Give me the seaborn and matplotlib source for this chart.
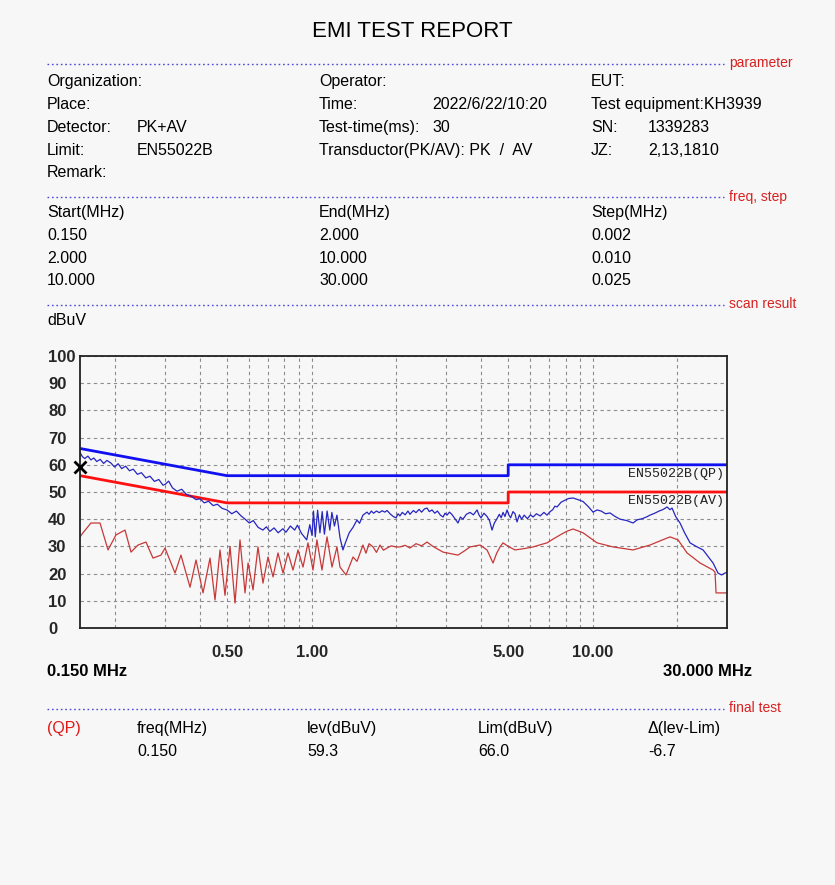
import numpy as np
import pandas as pd
import matplotlib
matplotlib.use('Agg')
import matplotlib.pyplot as plt
from matplotlib.lines import Line2D
import seaborn as sns

# peak trace: (MHz, dBuV)
pk_points = [
    (0.150, 64.5), (0.153, 63.0), (0.156, 62.3), (0.160, 63.2), (0.164, 61.8),
    (0.168, 62.5), (0.172, 61.2), (0.177, 62.0), (0.182, 60.5), (0.187, 61.6),
    (0.193, 60.7), (0.199, 59.2), (0.205, 60.4), (0.211, 58.6), (0.218, 59.5),
    (0.225, 57.8), (0.232, 58.4), (0.240, 56.5), (0.248, 57.1), (0.257, 55.2),
    (0.266, 55.8), (0.276, 53.9), (0.286, 54.6), (0.296, 52.5), (0.301, 52.8),
    (0.310, 54.0), (0.320, 51.5), (0.332, 50.3), (0.345, 51.0), (0.358, 49.2),
    (0.372, 48.5), (0.388, 47.2), (0.401, 47.5), (0.415, 46.0), (0.430, 46.6),
    (0.446, 45.0), (0.462, 45.5), (0.480, 44.0), (0.500, 43.4), (0.520, 42.0),
    (0.540, 43.0), (0.561, 41.2), (0.580, 40.0), (0.600, 38.6), (0.620, 39.5),
    (0.645, 37.0), (0.671, 36.0), (0.690, 37.2), (0.710, 35.5), (0.735, 36.8),
    (0.760, 35.0), (0.790, 36.5), (0.810, 35.2), (0.840, 37.5), (0.870, 36.0),
    (0.890, 37.8), (0.920, 34.8), (0.960, 32.4), (0.985, 38.0), (1.003, 34.0),
    (1.015, 43.0), (1.030, 33.5), (1.050, 43.3), (1.070, 35.0), (1.090, 42.8),
    (1.110, 34.5), (1.135, 43.0), (1.160, 36.0), (1.180, 42.5), (1.205, 37.5),
    (1.230, 41.5), (1.262, 33.0), (1.292, 28.7), (1.320, 31.5), (1.360, 35.0),
    (1.403, 37.0), (1.449, 39.7), (1.480, 38.5), (1.522, 41.5), (1.573, 42.6),
    (1.600, 41.8), (1.630, 43.0), (1.660, 42.2), (1.700, 43.0), (1.740, 42.4),
    (1.780, 43.1), (1.820, 42.6), (1.854, 43.2), (1.900, 42.0), (1.950, 41.0),
    (1.995, 40.5), (2.030, 42.0), (2.060, 41.2), (2.100, 42.5), (2.150, 41.6),
    (2.200, 43.0), (2.237, 41.8), (2.300, 43.2), (2.350, 42.4), (2.410, 43.6),
    (2.460, 42.6), (2.520, 43.8), (2.572, 44.1), (2.620, 42.8), (2.680, 43.4),
    (2.740, 42.2), (2.800, 43.0), (2.870, 41.5), (2.933, 40.8), (2.980, 42.2),
    (3.030, 41.5), (3.090, 42.6), (3.150, 41.8), (3.230, 40.2), (3.315, 38.6),
    (3.380, 40.8), (3.450, 40.0), (3.550, 41.8), (3.658, 42.5), (3.760, 41.6),
    (3.874, 43.4), (3.940, 41.5), (4.000, 40.5), (4.100, 42.2), (4.204, 41.0),
    (4.290, 39.5), (4.380, 36.0), (4.460, 38.5), (4.550, 40.0), (4.650, 41.8),
    (4.720, 40.5), (4.793, 42.5), (4.870, 41.0), (4.952, 43.4), (5.030, 41.5),
    (5.100, 40.5), (5.200, 42.8), (5.288, 42.0), (5.375, 39.0), (5.480, 41.6),
    (5.580, 40.0), (5.700, 41.5), (5.850, 40.2), (6.000, 41.6), (6.130, 40.8),
    (6.300, 42.0), (6.500, 41.2), (6.700, 42.5), (6.871, 41.5), (7.050, 42.8),
    (7.200, 43.5), (7.330, 44.8), (7.460, 44.5), (7.700, 46.2), (7.964, 47.0),
    (8.200, 47.6), (8.504, 47.8), (8.850, 47.2), (9.229, 46.5), (9.600, 44.8),
    (10.02, 42.6), (10.35, 43.4), (10.70, 43.0), (11.10, 42.0), (11.51, 42.3),
    (12.00, 41.0), (12.50, 40.0), (13.20, 39.5), (13.90, 38.6), (14.40, 39.8),
    (15.00, 40.2), (15.50, 40.8), (15.97, 41.5), (16.60, 42.2), (17.20, 43.0),
    (17.80, 43.6), (18.36, 44.5), (18.80, 43.5), (19.13, 44.1), (19.70, 41.0),
    (20.42, 38.6), (21.20, 35.0), (22.17, 31.3), (23.30, 30.0), (24.66, 28.7),
    (25.60, 26.5), (26.76, 23.9), (27.87, 20.2), (28.70, 19.5), (29.52, 20.2),
    (30.00, 20.5),
]

# average trace: (MHz, dBuV)
av_points = [
    (0.150, 33.5), (0.1537, 35.0), (0.1641, 38.6), (0.1767, 38.6), (0.1887, 28.7),
    (0.2013, 34.2), (0.2168, 36.0), (0.2278, 27.9), (0.2412, 30.5), (0.2575, 31.6),
    (0.2727, 25.7), (0.2912, 26.8), (0.3009, 29.4), (0.3266, 20.2), (0.3429, 26.8),
    (0.3693, 15.0), (0.3879, 25.0), (0.4108, 12.9), (0.4350, 25.7), (0.4532, 10.3),
    (0.4721, 28.7), (0.4918, 12.0), (0.5125, 30.0), (0.5337, 9.2), (0.5561, 32.4),
    (0.5795, 12.9), (0.5940, 23.9), (0.6188, 14.0), (0.6443, 29.8), (0.6712, 16.5),
    (0.6994, 26.1), (0.7287, 18.8), (0.7591, 27.6), (0.7908, 20.2), (0.8239, 27.6),
    (0.8583, 21.3), (0.8942, 28.7), (0.9316, 22.4), (0.9703, 31.3), (1.011, 21.3),
    (1.044, 32.4), (1.088, 21.3), (1.134, 33.5), (1.181, 22.4), (1.230, 29.8),
    (1.261, 22.4), (1.325, 19.5), (1.403, 26.1), (1.450, 24.5), (1.522, 30.5),
    (1.560, 27.5), (1.600, 31.0), (1.653, 29.8), (1.700, 27.8), (1.750, 30.5),
    (1.800, 28.6), (1.854, 29.4), (1.920, 30.2), (1.995, 29.8), (2.062, 29.8),
    (2.150, 30.4), (2.237, 29.4), (2.350, 31.0), (2.460, 30.2), (2.572, 31.6),
    (2.700, 30.0), (2.933, 27.9), (3.100, 27.4), (3.315, 26.8), (3.500, 28.4),
    (3.658, 29.8), (3.970, 30.5), (4.204, 28.7), (4.300, 26.5), (4.416, 23.9),
    (4.550, 27.5), (4.676, 29.8), (4.793, 31.3), (5.000, 30.0), (5.288, 28.7),
    (5.700, 29.2), (6.130, 29.8), (6.500, 30.6), (6.871, 31.3), (7.250, 32.8),
    (7.645, 34.2), (8.100, 35.6), (8.504, 36.4), (9.229, 35.0), (10.35, 31.3),
    (11.80, 29.8), (13.90, 28.7), (15.97, 30.5), (17.50, 32.2), (18.82, 33.5),
    (20.09, 32.4), (21.63, 27.6), (24.06, 23.9), (26.76, 21.3), (27.20, 20.5),
    (27.43, 12.9), (29.52, 12.9), (30.00, 12.9),
]
pk_freq, pk_level = [list(v) for v in zip(*pk_points)]
av_freq, av_level = [list(v) for v in zip(*av_points)]

# EN55022B limits
qp_lim_freq = [0.15, 0.5, 5.0, 5.0, 30.0]
qp_lim = [66, 56, 56, 60, 60]
av_lim_freq = [0.15, 0.5, 5.0, 5.0, 30.0]
av_lim = [56, 46, 46, 50, 50]

final_freq = 0.150
final_lev = 59.3
final_lim = 66.0

x_major = [0.5, 1.0, 5.0, 10.0]
x_major_labels = ['0.50', '1.00', '5.00', '10.00']
x_minor = [0.2, 0.3, 0.4, 0.6, 0.7, 0.8, 0.9, 2, 3, 4, 6, 7, 8, 9, 20]
y_ticks = list(range(0, 101, 10))

sns.set_style('white')
SANS = ['Liberation Sans', 'DejaVu Sans']
plt.rcParams['font.family'] = SANS

W, H = 835, 885
BG = '#f7f7f7'
fig = plt.figure(figsize=(W / 100, H / 100), dpi=100, facecolor=BG)


def fx(x):
    return x / W


def fy(y):
    return 1 - y / H


def txt(x, y, s, size=11.5, color='#000000', ha='left', **kw):
    # y is the visual middle of the capitals; place on a shared baseline
    fig.text(fx(x), fy(y + size * 0.45), s, fontsize=size, color=color, ha=ha,
             va='baseline', **kw)


def sep(y, label):
    fig.add_artist(Line2D([fx(47), fx(724)], [fy(y), fy(y)], color='#4a4ad8',
                          lw=1.0, linestyle=(0, (1.2, 2.0))))
    txt(729, y - 1, label, size=10, color='#d82020')


txt(412, 30, 'EMI TEST REPORT', size=16, ha='center')

sep(64, 'parameter')
rows = [
    (81, [(47, 'Organization:'), (319, 'Operator:'), (591, 'EUT:')]),
    (104, [(47, 'Place:'), (319, 'Time:'), (432, '2022/6/22/10:20'), (591, 'Test equipment:KH3939')]),
    (127, [(47, 'Detector:'), (137, 'PK+AV'), (319, 'Test-time(ms):'), (432, '30'),
           (591, 'SN:'), (648, '1339283')]),
    (150, [(47, 'Limit:'), (137, 'EN55022B'), (319, 'Transductor(PK/AV): PK  /  AV'),
           (591, 'JZ:'), (648, '2,13,1810')]),
    (172, [(47, 'Remark:')]),
]
for y, items in rows:
    for x, s in items:
        txt(x, y, s)

sep(197, 'freq, step')
freq_rows = [
    (212, ['Start(MHz)', 'End(MHz)', 'Step(MHz)']),
    (235, ['0.150', '2.000', '0.002']),
    (258, ['2.000', '10.000', '0.010']),
    (280, ['10.000', '30.000', '0.025']),
]
for y, cells in freq_rows:
    for x, s in zip([47, 319, 591], cells):
        txt(x, y, s)

sep(305, 'scan result')
txt(47, 320, 'dBuV')

# chart
ax = fig.add_axes([fx(80), fy(628), (727 - 80) / W, (628 - 356) / H])
ax.set_facecolor(BG)
ax.set_xscale('log')

sns.lineplot(x=av_lim_freq, y=av_lim, ax=ax, color='#ff1010', lw=2.0,
             estimator=None, sort=False)
sns.lineplot(x=qp_lim_freq, y=qp_lim, ax=ax, color='#1010f0', lw=2.0,
             estimator=None, sort=False)
sns.lineplot(x=av_freq, y=av_level, ax=ax, color='#c83838', lw=0.9,
             estimator=None, sort=False)
sns.lineplot(x=pk_freq, y=pk_level, ax=ax, color='#2626c0', lw=0.9,
             estimator=None, sort=False)
ax.plot([final_freq], [final_lev], marker='x', color='black', ms=8, mew=2,
        clip_on=False, zorder=5)

ax.set_xlim(0.15, 30)
ax.set_ylim(0, 100)
ax.set_xticks(x_major)
ax.set_xticklabels(x_major_labels)
ax.set_xticks(x_minor, minor=True)
ax.set_xticklabels([], minor=True)
ax.set_yticks(y_ticks)
ax.set_yticklabels([str(v) for v in y_ticks])
ax.grid(True, which='both', color='#8c8c8c', lw=0.8, linestyle=(0, (3, 3)))
ax.tick_params(which='both', length=0)
ax.tick_params(axis='x', pad=12, labelsize=12)
ax.tick_params(axis='y', pad=23, labelsize=12)
for lab in ax.get_yticklabels() + ax.get_xticklabels():
    lab.set_fontweight('bold')
for lab in ax.get_yticklabels():
    lab.set_horizontalalignment('left')
ax.set_xlabel('')
ax.set_ylabel('')
for sp in ax.spines.values():
    sp.set_color('#222222')
    sp.set_linewidth(1.3)

MONO = ['Liberation Mono', 'DejaVu Sans Mono']
ax.text(0.995, 59.0, 'EN55022B(QP)', transform=ax.get_yaxis_transform(),
        ha='right', va='top', fontsize=9.6, family=MONO, color='#222222')
ax.text(0.995, 49.0, 'EN55022B(AV)', transform=ax.get_yaxis_transform(),
        ha='right', va='top', fontsize=9.6, family=MONO, color='#222222')

txt(47, 671, '0.150 MHz', size=12, weight='bold')
txt(752, 671, '30.000 MHz', size=12, ha='right', weight='bold')

sep(709, 'final test')
txt(47, 728, '(QP)', color='#e01818')
txt(137, 728, 'freq(MHz)')
txt(307, 728, 'lev(dBuV)')
txt(478, 728, 'Lim(dBuV)')
txt(648, 728, '\u0394(lev-Lim)')
txt(137, 751, f'{final_freq:.3f}')
txt(307, 751, f'{final_lev:.1f}')
txt(478, 751, f'{final_lim:.1f}')
txt(648, 751, f'{final_lev - final_lim:.1f}')

fig.savefig('out.png', dpi=100, facecolor=BG)
